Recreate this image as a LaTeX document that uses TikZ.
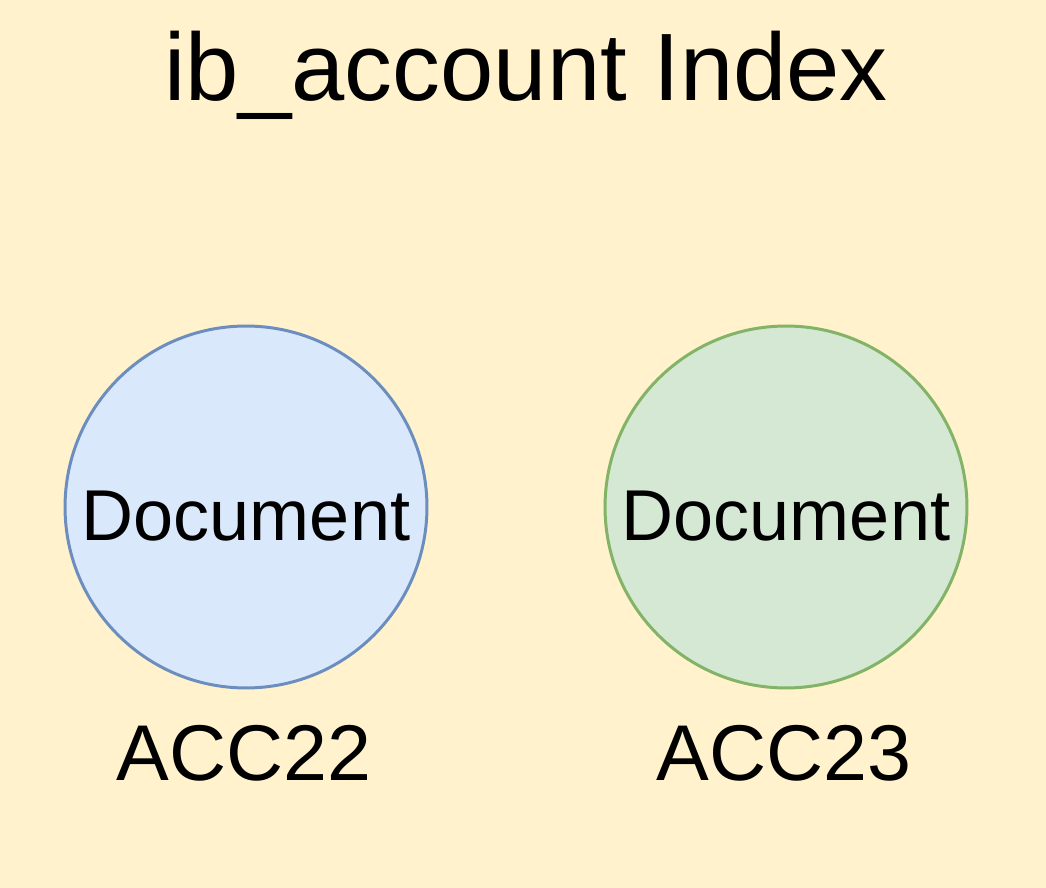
\documentclass[tikz,border=0pt]{standalone}
\usepackage{fontspec}
\setmainfont{Liberation Sans}
\definecolor{bgyellow}{HTML}{FFF2CC}
\definecolor{bluefill}{HTML}{DAE8FC}
\definecolor{blueline}{HTML}{6C8EBF}
\definecolor{greenfill}{HTML}{D5E8D4}
\definecolor{greenline}{HTML}{82B366}

\begin{document}
\begin{tikzpicture}[x=0.02cm,y=-0.02cm]
		\fill[bgyellow] (0,0) rectangle (1046,888);
		\node[anchor=base,font=\fontsize{54.5}{64}\selectfont] (title) at (526,101) {ib\_account Index};

		\begin{scope}[every node/.style={circle,line width=1.7pt,minimum size=7.24cm,inner sep=0pt,
		              text height=1.36cm,font=\fontsize{41}{48}\selectfont}]
		    \node[draw=blueline,fill=bluefill] (doc22) at (246,507) {Document};
		    \node[draw=greenline,fill=greenfill] (doc23) at (786,507) {Document};
		\end{scope}

		\begin{scope}[every node/.style={anchor=base,font=\fontsize{45}{54}\selectfont}]
		    \node (acc22) at (244,781) {ACC22};
		    \node (acc23) at (784,781) {ACC23};
		\end{scope}
\end{tikzpicture}
\end{document}
